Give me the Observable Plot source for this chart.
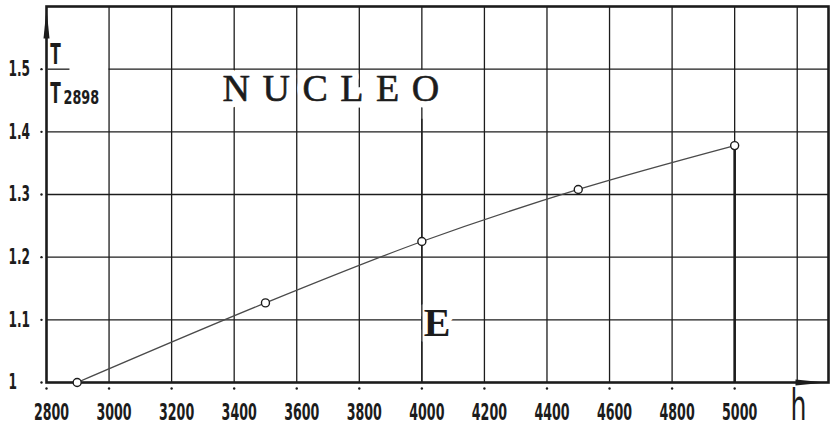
<!DOCTYPE html>
<html>
<head>
<meta charset="utf-8">
<script src="https://cdn.jsdelivr.net/npm/d3@7"></script>
<script src="https://cdn.jsdelivr.net/npm/@observablehq/plot@0.6"></script>
<style>
  html, body { margin: 0; padding: 0; background: white; }
  #chart svg { display: block; }
</style>
</head>
<body>
<div id="chart"></div>
<script>
// Data
const heights = [2898, 3500, 4000, 4500, 5000];
const ratios = [1.0, 1.127, 1.225, 1.308, 1.378];
const xTicks = [2800, 3000, 3200, 3400, 3600, 3800, 4000, 4200, 4400, 4600, 4800, 5000];
const yTicks = [1, 1.1, 1.2, 1.3, 1.4, 1.5];
const xGrid = [3000, 3200, 3400, 3600, 3800, 4000, 4200, 4400, 4600, 4800, 5000, 5200];
const yGrid = [1.1, 1.2, 1.3, 1.4];

const points = heights.map((h, i) => ({h, r: ratios[i]}));
const last = points[points.length - 1];
const fmtY = d => d === 1 ? "1" : d.toFixed(1);

const ink = "#1c1c1c";
const arrowHead = {
  draw(ctx) {
    ctx.moveTo(0, 0);
    ctx.lineTo(-3, 30);
    ctx.lineTo(3, 30);
    ctx.closePath();
  }
};
const nucleo = {x: 3363, y: 1.45, text: d => d, textAnchor: "start", lineAnchor: "bottom",
  fontFamily: "Liberation Serif", fontSize: 38};

const chart = Plot.plot({
  width: 831,
  height: 429,
  marginLeft: 46,
  marginRight: 3,
  marginTop: 6,
  marginBottom: 47,
  x: {domain: [2800, 5300], axis: null},
  y: {domain: [1, 1.6], axis: null},
  style: {fontFamily: "DejaVu Sans", background: "white", color: ink},
  marks: [
    Plot.ruleX(xGrid, {stroke: ink, strokeWidth: 1.3}),
    Plot.text(["NUCLEO"], {...nucleo, fill: "white", stroke: "white", strokeWidth: 13}),
    Plot.ruleY(yGrid, {stroke: ink, strokeWidth: 1.3}),
    Plot.ruleY([1.5], {x1: 3000, x2: 5300, stroke: ink, strokeWidth: 1.3}),
    Plot.ruleY([1.5], {x1: 2805, x2: 2875, stroke: ink, strokeWidth: 1.3}),
    Plot.text(["NUCLEO"], {...nucleo, fill: ink, stroke: ink, strokeWidth: 0.6}),
    Plot.text(["E"], {x: 4006, y: 1.075, text: d => d, textAnchor: "start", lineAnchor: "bottom",
      fontFamily: "Liberation Serif", fontWeight: "bold", fontSize: 40, fill: ink,
      stroke: "white", strokeWidth: 12, paintOrder: "stroke"}),
    Plot.ruleX([4000], {y1: 1, y2: 1.42, stroke: ink, strokeWidth: 1.3}),
    Plot.frame({stroke: ink, strokeWidth: 2.6}),
    Plot.ruleX([last], {x: "h", y1: 1, y2: "r", stroke: ink, strokeWidth: 2.6}),
    Plot.line(points, {x: "h", y: "r", curve: "catmull-rom", stroke: "#4a4a4a", strokeWidth: 1.3}),
    Plot.dot(points, {x: "h", y: "r", r: 4, fill: "white", stroke: ink, strokeWidth: 1.4}),
    // tick dots
    Plot.dot(xTicks, {x: d => d, y: () => 1, dy: 6, r: 1.2, fill: ink, stroke: "none"}),
    Plot.dot(yTicks, {y: d => d, x: () => 2800, dx: -5, r: 1.2, fill: ink, stroke: "none"}),
    // axis arrows
    Plot.dot([{x: 2800, y: 1.6}], {x: "x", y: "y", dy: 2, symbol: arrowHead, fill: ink, stroke: "none"}),
    Plot.dot([{x: 5300, y: 1}], {x: "x", y: "y", dx: -3, symbol: arrowHead, rotate: 90, fill: ink, stroke: "none"}),
    // axes
    Plot.axisX(xTicks, {tickSize: 0, tickPadding: 21, tickFormat: d => String(d), fontSize: 23, dx: 5,
      fontWeight: "bold", fill: ink}),
    Plot.axisY(yTicks, {tickSize: 0, tickPadding: 38, textAnchor: "start",
      tickFormat: fmtY, fontSize: 21, fontWeight: "bold", fill: ink}),
    // axis titles
    Plot.text(["T"], {frameAnchor: "top-left", dx: 9, dy: 57, text: d => d, textAnchor: "middle",
      lineAnchor: "bottom", fontSize: 28, fontWeight: "bold", fill: ink}),
    Plot.text(["T"], {frameAnchor: "top-left", dx: 9, dy: 96, text: d => d, textAnchor: "middle",
      lineAnchor: "bottom", fontSize: 28, fontWeight: "bold", fill: ink}),
    Plot.text(["2898"], {frameAnchor: "top-left", dx: 17, dy: 97, text: d => d, textAnchor: "start",
      lineAnchor: "bottom", fontSize: 20, fontWeight: "bold", fill: ink}),
    Plot.text(["h"], {frameAnchor: "bottom-right", dx: -30, dy: 37, text: d => d, textAnchor: "middle",
      lineAnchor: "bottom", fontSize: 42, fill: ink})
  ]
});

const svg = d3.select(chart);
function squeeze(labels, sx) {
  const set = new Set(labels);
  svg.selectAll("text").filter(function() { return set.has(this.textContent); }).each(function() {
    const t = this.getAttribute("transform") || "";
    this.setAttribute("transform", (t + ` scale(${sx},1)`).trim());
  });
}
squeeze(xTicks.map(String), 0.55);
squeeze(yTicks.map(fmtY), 0.58);
squeeze(["T"], 0.55);
squeeze(["2898"], 0.64);
squeeze(["h"], 0.6);
svg.selectAll("text").filter(function() { return this.textContent === "NUCLEO"; })
  .style("letter-spacing", "12.5px");

document.getElementById("chart").appendChild(chart);
</script>
</body>
</html>
